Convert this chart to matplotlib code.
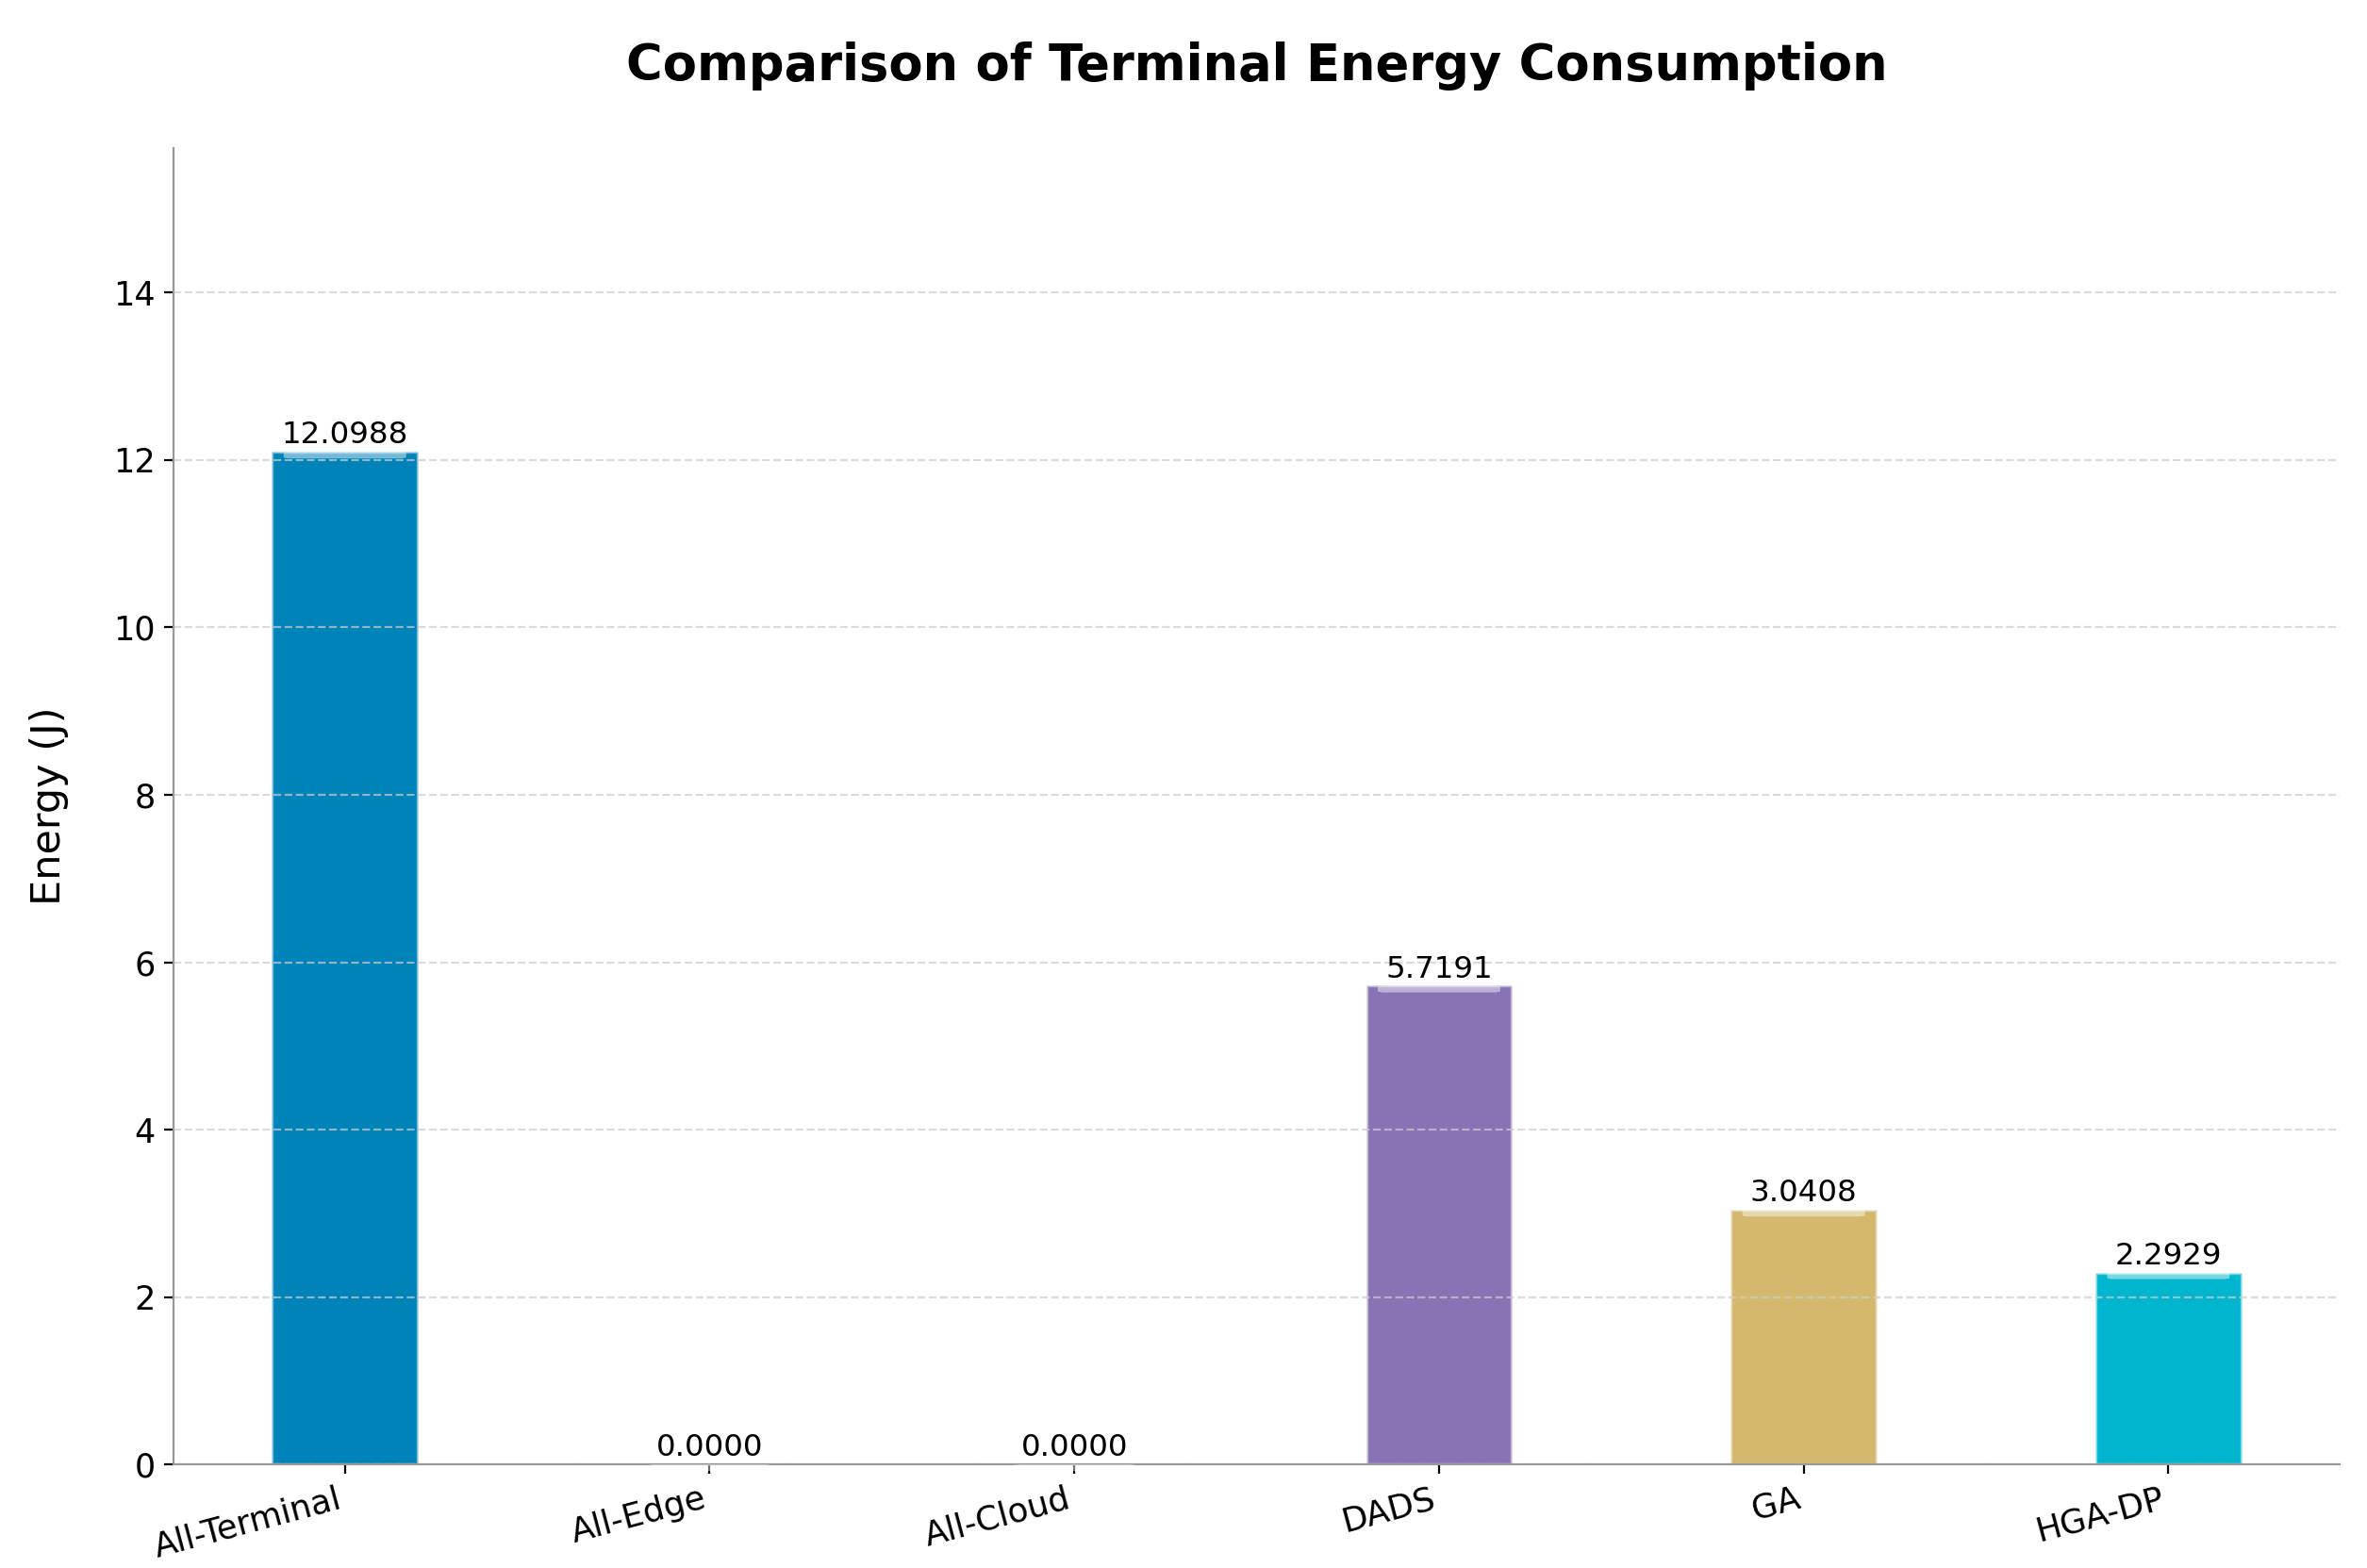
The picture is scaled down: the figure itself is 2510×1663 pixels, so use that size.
import matplotlib
matplotlib.use('Agg')
import matplotlib.pyplot as plt
from matplotlib.patches import FancyBboxPatch

# Datos
estrategias = ['All-Terminal', 'All-Edge', 'All-Cloud', 'DADS', 'GA', 'HGA-DP']
energia = [12.0988, 0.0000, 0.0000, 5.7191, 3.0408, 2.2929]
colores = ['#0083b8', '#e8963c', '#5aa05a', '#8873b5', '#d4b86e', '#00b5cd']

fig = plt.figure(figsize=(12.55, 8.315), dpi=200)
ax = fig.add_axes([0.0733, 0.0661, 0.9152, 0.8395])

barras = ax.bar(estrategias, energia, width=0.4, color=colores,
                edgecolor=(1, 1, 1, 0.45), linewidth=1.2)

# Brillo en la parte superior de cada barra
for b in barras:
    x0 = b.get_x()
    w = b.get_width()
    h = b.get_height()
    alto = 0.08
    brillo = FancyBboxPatch((x0 + w * 0.08, h - alto), w * 0.84, alto,
                            boxstyle='round,pad=0,rounding_size=0.02',
                            facecolor='white', edgecolor='none', alpha=0.45,
                            mutation_aspect=1, zorder=3, clip_on=False)
    ax.add_patch(brillo)

# Etiquetas con los valores
for b, v in zip(barras, energia):
    ax.text(b.get_x() + b.get_width() / 2, v + 0.02, f'{v:.4f}',
            ha='center', va='bottom', fontsize=11.7, zorder=4)

ax.set_ylim(0, max(energia) * 1.3)
ax.set_ylabel('Energy (J)', fontsize=15.5, labelpad=17)
ax.set_title('Comparison of Terminal Energy Consumption', fontsize=19,
             fontweight='bold', pad=26)

ax.tick_params(axis='y', labelsize=12.6)
ax.tick_params(axis='x', labelsize=12.8)
plt.setp(ax.get_xticklabels(), rotation=15, ha='right')

ax.grid(axis='y', linestyle='--', color='#cccccc', alpha=0.7, linewidth=0.8)
ax.spines['top'].set_visible(False)
ax.spines['right'].set_visible(False)
ax.spines['left'].set_color('#999999')
ax.spines['bottom'].set_color('#999999')

plt.savefig('out.png', dpi=200)
plt.close()
